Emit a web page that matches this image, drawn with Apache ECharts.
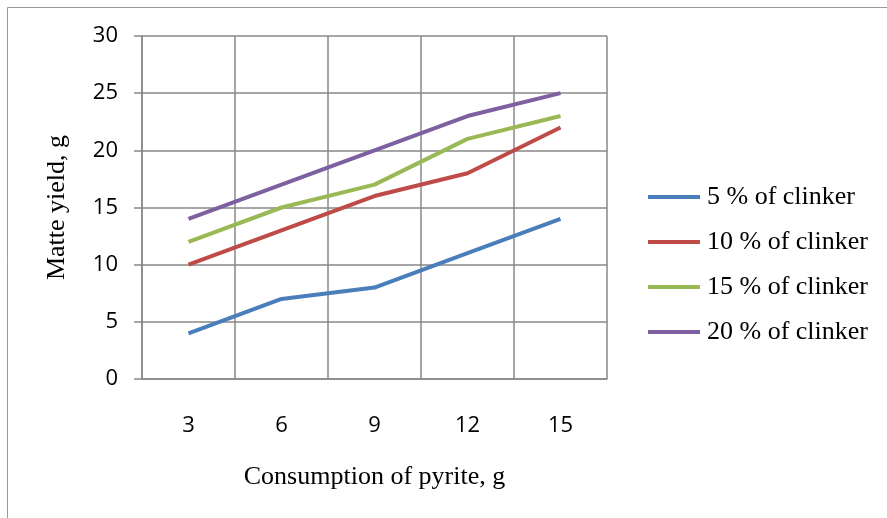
<!DOCTYPE html>
<html>
<head>
<meta charset="utf-8">
<script src="https://cdn.jsdelivr.net/npm/echarts@6/dist/echarts.min.js"></script>
<style>
  html, body { margin: 0; padding: 0; background: #fff; }
  #chart { width: 887px; height: 518px; }
</style>
</head>
<body>
<div id="chart"></div>
<script>
// Pyrite consumption (g) on the category axis
const categories = ['3', '6', '9', '12', '15'];

// Matte yield (g) for each clinker share
const clinker5  = [4, 7, 8, 11, 14];
const clinker10 = [10, 13, 16, 18, 22];
const clinker15 = [12, 15, 17, 21, 23];
const clinker20 = [14, 17, 20, 23, 25];

const seriesNames = ['5 % of clinker', '10 % of clinker', '15 % of clinker', '20 % of clinker'];
const seriesValues = [clinker5, clinker10, clinker15, clinker20];
const colors = ['#4a7ebb', '#be4b48', '#98b954', '#7d60a0'];

const serif = '"Liberation Serif", "DejaVu Serif", serif';
const sans = '"Open Sans", "Noto Sans", sans-serif';

const chart = echarts.init(document.getElementById('chart'), null, { renderer: 'canvas' });

chart.setOption({
  animation: false,
  backgroundColor: '#fff',
  graphic: [{
    type: 'rect',
    shape: { x: 7.5, y: 7.5, width: 900, height: 560 },
    style: { fill: 'none', stroke: '#999', lineWidth: 1 },
    silent: true
  }],
  grid: { left: 142, right: 280, top: 36, bottom: 139 },
  legend: {
    orient: 'vertical',
    left: 643,
    top: 179,
    itemWidth: 52,
    itemHeight: 4,
    itemGap: 19,
    icon: 'rect',
    textStyle: { fontFamily: serif, fontSize: 26, color: '#000', padding: [0, 0, 0, 2] },
    data: seriesNames
  },
  xAxis: {
    type: 'category',
    data: categories,
    boundaryGap: true,
    name: 'Consumption of pyrite, g',
    nameLocation: 'middle',
    nameGap: 85,
    nameTextStyle: { fontFamily: serif, fontSize: 26, color: '#000' },
    axisLine: { lineStyle: { color: '#888', width: 1.5 } },
    axisTick: { show: false },
    axisLabel: { fontFamily: sans, fontSize: 22, color: '#000', margin: 36 },
    splitLine: { show: true, lineStyle: { color: '#888', width: 1.5 } }
  },
  yAxis: {
    type: 'value',
    min: 0,
    max: 30,
    interval: 5,
    name: 'Matte yield, g',
    nameLocation: 'middle',
    nameGap: 72,
    nameTextStyle: { fontFamily: serif, fontSize: 26, color: '#000' },
    axisLine: { show: true, lineStyle: { color: '#888', width: 1.5 } },
    axisTick: { show: true, inside: false, length: 8, lineStyle: { color: '#888', width: 1.5 } },
    axisLabel: { fontFamily: sans, fontSize: 22, color: '#000', margin: 24 },
    splitLine: { show: true, lineStyle: { color: '#888', width: 1.5 } }
  },
  series: seriesNames.map((name, i) => ({
    name: name,
    type: 'line',
    data: seriesValues[i],
    symbol: 'none',
    color: colors[i],
    lineStyle: { width: 4, color: colors[i] },
    z: 3 + i
  }))
});
</script>
</body>
</html>
